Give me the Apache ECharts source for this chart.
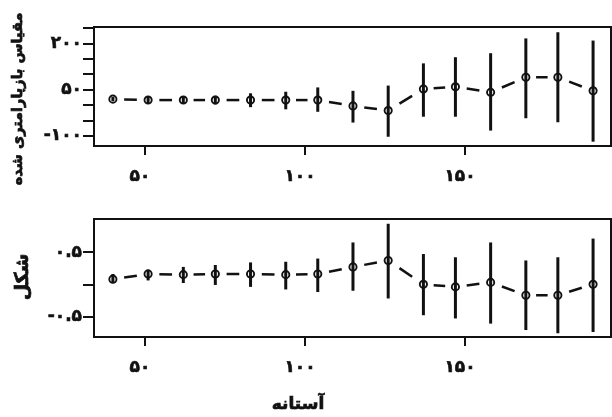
<!DOCTYPE html>
<html>
<head>
<meta charset="utf-8">
<script src="https://cdn.jsdelivr.net/npm/echarts@6/dist/echarts.min.js"></script>
<style>html,body{margin:0;padding:0;background:#fff}#c{width:612px;height:417px}</style>
</head>
<body>
<div id="c"></div>
<script>
// ---- data ----
const thresholds = [40, 51, 62, 72, 83, 94, 104, 115, 126, 137, 147, 158, 169, 179, 190];
const scaleMean  = [19, 16, 16, 16, 16, 16, 16, -3, -18, 52, 59, 41, 90, 90, 46];
const scaleLow   = [12, 4, 4, 2, -7, -14, -22, -57, -103, -38, -38, -83, -43, -56, -119];
const scaleHigh  = [26, 28, 28, 30, 38, 43, 57, 46, 63, 135, 155, 168, 216, 236, 209];
const shapeMean  = [0.08, 0.16, 0.15, 0.16, 0.16, 0.15, 0.16, 0.27, 0.37, 0.0, -0.04, 0.03, -0.17, -0.17, 0.0];
const shapeLow   = [0.02, 0.06, 0.02, -0.01, -0.04, -0.08, -0.12, -0.10, -0.22, -0.48, -0.53, -0.61, -0.71, -0.76, -0.74];
const shapeHigh  = [0.16, 0.23, 0.27, 0.30, 0.34, 0.35, 0.40, 0.65, 0.94, 0.47, 0.42, 0.65, 0.37, 0.42, 0.71];
const xTicks = [50, 100, 150];
const scaleTicks = [-100, -50, 0, 50, 100, 150, 200, 250];
const scaleTickLabels = [-100, 50, 200];
const shapeTicks = [-0.5, 0, 0.5];
const shapeTickLabels = [-0.5, 0.5];
const xTitle = 'آستانه';
const scaleTitle = 'مقیاس بازپارامتری شده';
const shapeTitle = 'شکل';

const FONT = 'DejaVu Sans';
const fa = v => String(v).replace(/[0-9]/g, d => '۰۱۲۳۴۵۶۷۸۹'[d]);

function rows(mean, lo, hi) {
  return thresholds.map((x, i) => [x, mean[i], lo[i], hi[i],
    i < thresholds.length - 1 ? thresholds[i + 1] : NaN,
    i < thresholds.length - 1 ? mean[i + 1] : NaN]);
}

function renderItem(params, api) {
  const x = api.value(0), m = api.value(1), lo = api.value(2), hi = api.value(3);
  const nx = api.value(4), nm = api.value(5);
  const p = api.coord([x, m]);
  const pl = api.coord([x, lo]);
  const ph = api.coord([x, hi]);
  const children = [
    {type: 'line', shape: {x1: pl[0], y1: pl[1], x2: ph[0], y2: ph[1]},
     style: {stroke: '#111', lineWidth: 3}},
    {type: 'circle', shape: {cx: p[0], cy: p[1], r: 3.6},
     style: {fill: 'none', stroke: '#111', lineWidth: 1.9}}
  ];
  if (!isNaN(nx)) {
    const q = api.coord([nx, nm]);
    const t1 = 0.32, t2 = 0.68;
    children.push({type: 'line', shape: {
      x1: p[0] + (q[0] - p[0]) * t1, y1: p[1] + (q[1] - p[1]) * t1,
      x2: p[0] + (q[0] - p[0]) * t2, y2: p[1] + (q[1] - p[1]) * t2},
      style: {stroke: '#111', lineWidth: 2.5}});
  }
  return {type: 'group', children};
}

function xAxis(gi) {
  return {
    type: 'value', gridIndex: gi, min: 34.1, max: 195.6, position: 'bottom',
    splitLine: {show: false},
    axisLine: {show: true, onZero: false, lineStyle: {color: '#111', width: 2}},
    axisTick: {show: true, inside: false, length: 9, lineStyle: {color: '#111', width: 2}, customValues: xTicks},
    axisLabel: {show: true, customValues: xTicks, formatter: v => fa(v), margin: 22,
      fontFamily: FONT, fontWeight: 'bold', fontSize: 17, color: '#111', padding: [0, 10, 0, 0],
      textBorderColor: '#111', textBorderWidth: 0.6}
  };
}
function yAxis(gi, min, max, ticks, labels) {
  return {
    type: 'value', gridIndex: gi, min, max, position: 'left',
    splitLine: {show: false},
    axisLine: {show: true, onZero: false, lineStyle: {color: '#111', width: 2}},
    axisTick: {show: true, inside: false, length: 11, lineStyle: {color: '#111', width: 2}, customValues: ticks},
    axisLabel: {show: true, customValues: labels, formatter: v => fa(v), margin: 12,
      fontFamily: FONT, fontWeight: 'bold', fontSize: 17, color: '#111',
      textBorderColor: '#111', textBorderWidth: 0.6}
  };
}

const chart = echarts.init(document.getElementById('c'), null, {renderer: 'canvas'});
chart.setOption({
  animation: false,
  backgroundColor: '#fff',
  grid: [
    {left: 94, top: 27, width: 517, height: 119, show: true, borderColor: '#111', borderWidth: 2, backgroundColor: 'transparent'},
    {left: 94, top: 219, width: 517, height: 118, show: true, borderColor: '#111', borderWidth: 2, backgroundColor: 'transparent'}
  ],
  xAxis: [xAxis(0), xAxis(1)],
  yAxis: [
    yAxis(0, -133, 253, scaleTicks, scaleTickLabels),
    yAxis(1, -0.818, 1.014, shapeTicks, shapeTickLabels)
  ],
  series: [
    {type: 'custom', xAxisIndex: 0, yAxisIndex: 0, renderItem, data: rows(scaleMean, scaleLow, scaleHigh), clip: false},
    {type: 'custom', xAxisIndex: 1, yAxisIndex: 1, renderItem, data: rows(shapeMean, shapeLow, shapeHigh), clip: false}
  ],
  graphic: [
    {type: 'text', x: 18, y: 99, rotation: Math.PI / 2,
     style: {text: scaleTitle, font: 'bold 14.5px "' + FONT + '"', fill: '#111', stroke: '#111', lineWidth: 0.7, align: 'center', verticalAlign: 'middle'}},
    {type: 'text', x: 23, y: 277, rotation: Math.PI / 2,
     style: {text: shapeTitle, font: 'bold 19px "' + FONT + '"', fill: '#111', stroke: '#111', lineWidth: 0.7, align: 'center', verticalAlign: 'middle'}},
    {type: 'text', x: 298, y: 405,
     style: {text: xTitle, font: 'bold 17px "' + FONT + '"', fill: '#111', stroke: '#111', lineWidth: 0.7, align: 'center', verticalAlign: 'middle'}}
  ]
});
</script>
</body>
</html>
